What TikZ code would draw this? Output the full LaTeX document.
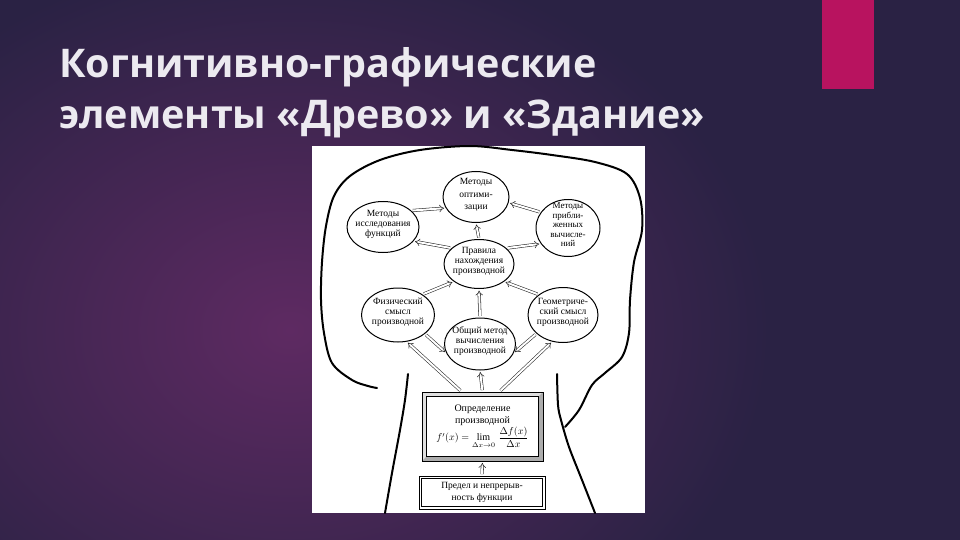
\documentclass[tikz,border=0pt]{standalone}
\usepackage{amsmath}
\usepackage{fontspec}
\setmainfont{Liberation Serif}
\newfontfamily\titlefont{Open Sans}
\usetikzlibrary{shapes.geometric,arrows.meta,calc}
\definecolor{bgbase}{HTML}{2A2244}
\definecolor{bgglow}{HTML}{5E2A62}
\definecolor{pinkbar}{HTML}{B8135F}
\definecolor{titlecol}{HTML}{ECEAF0}
\newcommand\cirtext[1]{\makebox[0pt]{\smash{\begin{tabular}{@{}c@{}}#1\end{tabular}}}}
\begin{document}
\begin{tikzpicture}[x=1pt,y=-1pt,
  circ/.style={ellipse, draw, line width=1pt, inner sep=0pt, font=\fontsize{9.5}{10}\selectfont},
  dbl/.style={draw=black!85, line width=0.55pt, double=white, double distance=2pt, -{Implies}, shorten >=1.5pt, shorten <=1.5pt},
  treeline/.style={line width=2pt, line cap=round, line join=round},
  titletext/.style={anchor=base west, inner sep=0pt, text=titlecol, font=\titlefont\bfseries\fontsize{39.5}{44}\selectfont},
  bevel/.style={path picture={
    \fill[gray!25] (path picture bounding box.north west) rectangle (path picture bounding box.south east);
    \fill[gray!65] (path picture bounding box.north east) -- (path picture bounding box.south east) -- (path picture bounding box.south west)
       -- ([shift={(4.5pt,4.5pt)}]path picture bounding box.south west) -- ([shift={(-4.5pt,4.5pt)}]path picture bounding box.south east)
       -- ([shift={(-4.5pt,-4.5pt)}]path picture bounding box.north east) -- cycle;
    \fill[white, draw=black, line width=0.7pt] ([shift={(4.5pt,-4.5pt)}]path picture bounding box.north west) rectangle ([shift={(-4.5pt,4.5pt)}]path picture bounding box.south east);
  }}
  ]
\useasboundingbox (0,0) rectangle (960,540);
% background
\begin{scope}
  \clip (0,0) rectangle (960,540);
  \fill[bgbase] (0,0) rectangle (960,540);
  \shade[inner color=bgglow, outer color=bgbase] (290,330) ellipse (480 and 380);
\end{scope}
\fill[pinkbar] (822,0) rectangle (874,89);
% title
\node[titletext] (t1) at (59,78) {Когнитивно-графические};
\node[titletext] (t2) at (59,129) {элементы «Древо» и «Здание»};
% picture
\fill[white] (312,146) rectangle (645,513);
\draw[treeline] plot[smooth, tension=0.55] coordinates {(377,388) (368,386) (352,380) (332,363) (324,333) (321,300) (322,262) (326,226) (334,196) (350,176) (380,160) (420,150) (470,146) (512,150) (552,155) (595,162) (627,174) (640,198) (642,230) (634,262) (630,300) (629,333) (622,357) (605,373) (592,385) (579,410) (565,427)};
\draw[treeline] plot[smooth] coordinates {(408,374) (405,400) (400,430) (392,473) (385,513)};
\draw[treeline] plot[smooth] coordinates {(557,374) (558,405) (561,420) (569,447) (582,480) (595,513)};
% circles
\node[circ, minimum width=66, minimum height=51, font=\fontsize{9.5}{12.5}\selectfont] (opt) at (476,197) {\cirtext{Методы\\оптими-\\зации}};
\node[circ, minimum width=72, minimum height=51] (res) at (383,227) {\cirtext{Методы\\исследования\\функций}};
\node[circ, minimum width=64, minimum height=57, font=\fontsize{9}{9.5}\selectfont] (apr) at (568,228) {\cirtext{Методы\\прибли-\\женных\\вычисле-\\ний}};
\node[circ, minimum width=70, minimum height=49] (rul) at (479,264) {\cirtext{Правила\\нахождения\\производной}};
\node[circ, minimum width=73, minimum height=54] (phy) at (398,315) {\cirtext{Физический\\смысл\\производной}};
\node[circ, minimum width=70, minimum height=55] (geo) at (563,315) {\cirtext{Геометриче-\\ский смысл\\производной}};
\node[circ, minimum width=71, minimum height=52] (gen) at (480,344) {\cirtext{Общий метод\\вычисления\\производной}};
% boxes
\node[draw, line width=0.8pt, bevel, minimum width=121, minimum height=69, inner sep=0pt, align=center, font=\fontsize{10}{12}\selectfont] (def) at (482.5,426.5) {Определение\\производной\\[0pt]$f'(x)=\lim\limits_{\Delta x\to0}\,\dfrac{\Delta f(x)}{\Delta x}$};
\node[draw, line width=0.8pt, minimum width=126, minimum height=33, inner sep=0pt, align=center, font=\fontsize{9.5}{12}\selectfont] (pre) at (482,492.5) {Предел и непрерыв-\\ность функции};
\draw[line width=0.8pt] ([shift={(3pt,-3pt)}]pre.north west) rectangle ([shift={(-3pt,3pt)}]pre.south east);
% arrows
\draw[dbl] (pre.north) -- (def.south);
\draw[dbl] (def.north) -- (gen.south);
\draw[dbl] ([xshift=-21pt]def.north) -- (phy.-72);
\draw[dbl] ([xshift=17pt]def.north) -- (geo.-112);
\draw[dbl] (phy.-35) -- (gen.195);
\draw[dbl] (geo.-145) -- (gen.-15);
\draw[dbl] (phy.40) -- (rul.-145);
\draw[dbl] (geo.140) -- (rul.-35);
\draw[dbl] (gen.north) -- (rul.south);
\draw[dbl] (rul.north) -- (opt.south);
\draw[dbl] (rul.150) -- (res.-25);
\draw[dbl] (rul.30) -- (apr.-150);
\draw[dbl] (res.30) -- (opt.200);
\draw[dbl] (apr.150) -- (opt.-10);
\end{tikzpicture}
\end{document}
